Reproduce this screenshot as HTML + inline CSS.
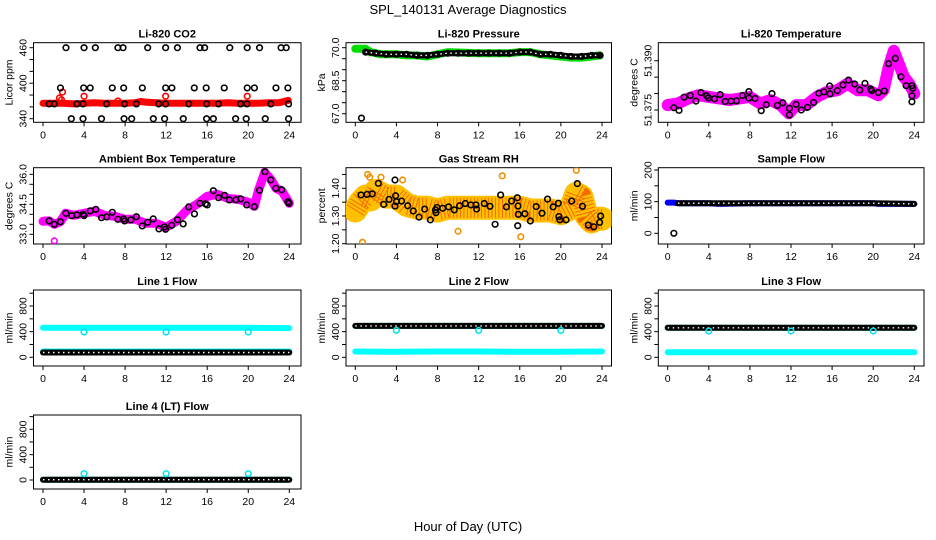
<!DOCTYPE html>
<html><head><meta charset="utf-8"><style>
html,body{margin:0;padding:0;background:#fff;}
svg{display:block;font-family:"Liberation Sans",Arial,sans-serif;}
</style></head><body>
<svg id="chart" width="936" height="540" viewBox="0 0 936 540">
<rect width="936" height="540" fill="#fff"/>
<text x="468" y="14" text-anchor="middle" font-size="13">SPL_140131  Average Diagnostics</text>
<text x="468" y="531" text-anchor="middle" font-size="13">Hour of Day (UTC)</text>
</svg>
<script>
// ---------- data ----------
const xTicks=[0,4,8,12,16,20,24];
// CO2
const co2BandH=[0,1,2,3,4,5,6,7,8,9,9.5,10,11,12,13,14,15,16,17,18,19,20,21,22,23,23.5,23.9];
const co2BandV=[366,366,366,365,366,367,366,366,366,367,369,368,367,366,366,366,366,366,366,367,366,366,366,367,367,369,371];
const co2RedH=[1.6,1.8,1.9,4.0,7.3,11.95,19.9];
const co2RedV=[375,372,385,378,370,378,378];
const co2BlkH=[2.24,4.0,5.1,7.3,7.8,10.2,11.95,13.1,15.3,15.75,18.2,19.9,21.1,23.2,23.7,
 1.7,3.96,4.6,6.75,7.86,9.68,11.95,12.56,14.74,15.9,17.66,19.9,20.6,22.7,23.86,
 0.6,1.1,3.3,3.9,6.2,7.95,9.1,11.27,11.95,14.2,15.94,17.1,19.25,19.87,22.2,23.93,
 2.76,3.9,5.7,7.9,8.64,10.75,11.85,13.67,15.94,16.6,18.77,19.8,21.66,23.93];
const co2BlkV=[460,460,460,460,460,460,460,460,460,460,460,460,460,460,460,
 392,392,392,392,392,392,392,392,392,392,392,392,392,392,392,
 365,365,365,365,365,365,365,365,365,365,365,365,365,365,365,365,
 340,340,340,340,340,340,340,340,340,340,340,340,340,340];
// Pressure
const presBandH=[0,1,1.5,2.5,4,5,6,7,8,9,12,15,16,17,18,19,20,21,22,23,23.8];
const presBandV=[69.95,69.95,69.8,69.7,69.7,69.65,69.65,69.6,69.7,69.8,69.75,69.75,69.8,69.8,69.7,69.65,69.6,69.55,69.55,69.6,69.65];
const presBlkH=[1,2,3,4,5,6,7,8,9,10,11,12,13,14,15,16,17,18,19,20,21,22,23,23.8];
const presBlkV=[69.8,69.75,69.7,69.7,69.7,69.65,69.65,69.7,69.75,69.75,69.75,69.75,69.75,69.75,69.75,69.8,69.8,69.7,69.7,69.65,69.6,69.6,69.65,69.65];
const presOutH=[0.6], presOutV=[66.8];
// Li-820 temperature
const ltBandH=[0,1,2,3,4,5,6,7,8,9,10,11,11.8,12.5,13.5,14.5,15.5,16.5,17.5,18.5,19.5,20.5,21,21.5,22,22.5,23,23.5,24];
const ltBandV=[51.3765,51.377,51.3785,51.3795,51.379,51.3785,51.378,51.3785,51.379,51.377,51.378,51.3765,51.374,51.3765,51.3765,51.379,51.3805,51.381,51.383,51.381,51.381,51.3795,51.381,51.388,51.393,51.389,51.385,51.383,51.380];
const ltBlkH=[0.6,1.1,1.6,2.2,2.75,3.24,3.8,3.96,4.55,5.1,5.6,6.16,6.7,7.27,7.9,7.9,8.5,9.1,9.6,10.15,10.67,11.2,11.84,11.84,12.5,13.0,13.6,14.2,14.7,15.2,15.76,15.8,16.5,17.06,17.6,18.2,18.7,19.2,19.75,19.85,20.5,21.08,21.5,22.15,22.7,23.2,23.77,23.84,23.77,23.77];
const ltBlkV=[51.3757,51.3749,51.3789,51.3794,51.3777,51.3803,51.3793,51.3787,51.3784,51.3797,51.3776,51.3777,51.3778,51.3794,51.3786,51.3806,51.3785,51.3748,51.3766,51.3800,51.3764,51.3772,51.3755,51.3735,51.3767,51.375,51.3758,51.3773,51.3801,51.3805,51.3823,51.3799,51.3809,51.3826,51.3841,51.3829,51.3811,51.3831,51.3814,51.3809,51.3803,51.3808,51.3891,51.3907,51.3851,51.3824,51.3824,51.3816,51.3793,51.3775];
// Ambient box temperature
const abBandH=[0,0.6,1.1,1.7,2.2,3,4,5,6,7,8,9,10,11,12,13,14,15,16,17,18,19,20,20.6,21,21.6,22.2,22.7,23.3,24];
const abBandV=[33.65,33.67,33.5,33.63,34.05,33.95,34.05,34.15,33.95,33.9,33.75,33.75,33.55,33.55,33.35,33.65,34.2,34.5,34.9,35.0,34.8,34.75,34.6,34.4,35.2,36.1,35.75,35.3,35.15,34.55];
const abBlkH=[0.6,1.1,1.7,2.24,2.8,3.3,3.9,4.0,4.6,5.15,5.7,6.2,6.75,7.3,7.85,7.95,8.56,9.1,9.67,10.2,10.74,11.3,11.84,11.94,12.55,13.1,13.66,14.2,14.76,15.3,15.83,16.0,16.6,17.1,17.7,18.16,18.8,19.27,19.85,20.6,21.1,21.63,22.19,22.7,23.26,23.87,23.97];
const abBlkV=[33.67,33.5,33.63,34.05,33.93,33.97,34.0,33.93,34.17,34.25,33.83,33.87,34.1,33.75,33.77,33.67,33.72,33.88,33.42,33.6,33.77,33.27,33.37,33.25,33.45,33.73,33.52,34.37,34.02,34.55,34.52,34.47,35.18,34.83,34.95,34.72,34.72,34.77,34.47,34.38,35.2,36.13,35.72,35.3,35.23,34.63,34.55];
const abOutH=[1.1], abOutV=[32.67];
// Gas stream RH
const rhBandH=[0,0.5,1,1.5,2,3,4,5,6,7,8,9,10,11,12,13,14,15,16,17,18,19,20,21,21.5,22,22.5,23,23.5,24];
const rhBandV=[1.32,1.35,1.37,1.36,1.39,1.37,1.37,1.34,1.33,1.33,1.32,1.33,1.33,1.33,1.33,1.33,1.33,1.33,1.33,1.32,1.32,1.32,1.31,1.33,1.38,1.37,1.30,1.28,1.29,1.29];
const rhBlkH=[0.55,1.14,1.65,2.24,2.76,3.28,3.86,3.92,3.86,4.0,4.5,5.1,5.64,6.2,6.75,7.3,7.8,7.85,7.95,8.5,9.08,9.63,10.15,10.7,11.25,11.74,11.8,12.55,13.1,13.6,14.14,14.7,15.2,15.76,15.83,15.86,15.8,16.5,17.03,17.6,18.16,18.7,19.24,19.75,19.8,19.9,20.5,21.05,21.6,22.1,22.67,23.2,23.77,23.87];
const rhBlkV=[1.376,1.378,1.38,1.418,1.342,1.36,1.43,1.373,1.336,1.352,1.354,1.337,1.318,1.296,1.325,1.286,1.322,1.312,1.331,1.328,1.333,1.322,1.337,1.345,1.34,1.34,1.325,1.345,1.335,1.27,1.376,1.333,1.354,1.366,1.336,1.306,1.265,1.308,1.282,1.334,1.31,1.361,1.333,1.346,1.298,1.286,1.286,1.354,1.417,1.335,1.267,1.261,1.277,1.30];
const rhOutH=[0.7,1.2,1.4,2.5,4.6,10.0,14.3,16.1,21.5], rhOutV=[1.205,1.45,1.44,1.44,1.43,1.245,1.445,1.225,1.465];
// Sample flow
const sfBandH=[0,0.6,1,4,5,8,12,15,16,20,20.5,24];
const sfBandV=[97,97,95,95,93,95,95,95,95,95,93,93];
const sfBlkH=[1,4,8,12,16,20,24];
const sfBlkV=[95,95,95,95,95,95,93];
const sfOutH=[0.6], sfOutV=[0];
// Line flows (ml/min)
const flowH=[0,4,8,12,16,20,24];
const l1Cyan=[460,460,460,460,460,460,455];
const l1CyanLow=[90,90,90,90,90,90,90];
const l1Black=[75,75,75,75,75,75,75];
const l2Cyan=[490,490,490,490,490,490,490];
const l2CyanLow=[90,85,90,90,85,85,90];
const l2Black=[490,490,490,490,490,490,490];
const l3Cyan=[460,460,460,460,460,460,460];
const l3CyanLow=[80,80,80,80,80,80,80];
const l3Black=[460,460,460,460,460,460,460];
const l4Cyan=[5,5,5,5,5,5,5];
const l4Black=[5,5,5,5,5,5,5];
const dipH=[4,12,20];
const l1Dip=[395,395,395], l2Dip=[420,420,420], l3Dip=[410,410,410], l4Dip=[100,100,100];

// ---------- drawing ----------
const NS="http://www.w3.org/2000/svg";
const svg=document.getElementById('chart');
function el(tag,attrs,parent){const e=document.createElementNS(NS,tag);for(const k in attrs)e.setAttribute(k,attrs[k]);(parent||svg).appendChild(e);return e;}
const cols=[{l:33.5,r:301,x0:43,x24:289.3},{l:346,r:611.5,x0:355.3,x24:602},{l:658.3,r:924,x0:667.7,x24:914.3}];
const rows=[{t:42.7,b:122.3},{t:167.7,b:244},{t:290,b:366},{t:415,b:489}];

function panel(ci,ri,title,ylab,va,ya,vb,yb,ticks,labels,name){
  const c=cols[ci],r=rows[ri];
  const g=el('g',{});
  
  
  const X=h=>c.x0+h*(c.x24-c.x0)/24;
  const Y=v=>ya+(v-va)*(yb-ya)/(vb-va);
  const t=el('text',{x:(c.l+c.r)/2,y:r.t-5,'text-anchor':'middle','font-size':'11','font-weight':'bold'},g);
  t.textContent=title;
  
  
  const box=el('rect',{x:c.l,y:r.t,width:c.r-c.l,height:r.b-r.t,fill:'none',stroke:'#000','stroke-width':'1'},g);
  
  
  xTicks.forEach(h=>{
    el('line',{x1:X(h),x2:X(h),y1:r.b,y2:r.b+4,stroke:'#000'},g);
    const tx=el('text',{x:X(h),y:r.b+16,'text-anchor':'middle','font-size':'10.5'},g);
    tx.textContent=h;
    
    
  });
  ticks.forEach(v=>{el('line',{x1:c.l-4,x2:c.l,y1:Y(v),y2:Y(v),stroke:'#000'},g);});
  labels.forEach(v=>{
    const s=el('text',{x:0,y:0,'text-anchor':'middle','font-size':'10.5',transform:`translate(${c.l-7},${Y(parseFloat(v))}) rotate(-90)`},g);
    s.textContent=v;
    
    
  });
  const yl=el('text',{x:0,y:0,'text-anchor':'middle','font-size':'10.5',transform:`translate(${c.l-21},${(r.t+r.b)/2}) rotate(-90)`},g);
  yl.textContent=ylab;
  
  
  const clip='clip'+ci+ri;
  const cp=el('clipPath',{id:clip},g);
  el('rect',{x:c.l,y:r.t,width:c.r-c.l,height:r.b-r.t},cp);
  const dg=el('g',{'clip-path':`url(#${clip})`},g);
  return {X,Y,g:dg};
}
function band(p,H,V,color,w,name){
  const pts=H.map((h,i)=>p.X(h).toFixed(1)+','+p.Y(V[i]).toFixed(1)).join(' ');
  const b=el('polyline',{points:pts,fill:'none',stroke:color,'stroke-width':w,'stroke-linejoin':'round','stroke-linecap':'round'},p.g);
  
  
  return b;
}
function chain(p,H,V,color,name){
  const b=band(p,H,V,color,6,name);
  el('polyline',{points:b.getAttribute('points'),fill:'none',stroke:'#fff','stroke-width':'1.4','stroke-dasharray':'1.5 3.5'},p.g);
}
function pts(p,H,V,color,name,r){
  H.forEach((h,i)=>{
    const c=el('circle',{cx:p.X(h),cy:p.Y(V[i]),r:r||2.8,fill:'none',stroke:color,'stroke-width':'1.6'},p.g);
    
    
  });
}
function rng(a,b,s){const o=[];for(let v=a;v<=b+1e-9;v+=s)o.push(+v.toFixed(4));return o;}

// Panel 1 CO2
let p=panel(0,0,'Li-820 CO2','Licor ppm',460,47.7,340,118.7,rng(340,460,20),['340','400','460'],'panel-co2');
band(p,co2BandH,co2BandV,'#ff0000',7,'co2-band');
pts(p,co2RedH,co2RedV,'#ff0000','co2-red-point');
pts(p,co2BlkH,co2BlkV,'#000','co2-black-point');
// Panel 2 pressure
p=panel(1,0,'Li-820 Pressure','kPa',70,47.7,67,113.7,rng(67,70,0.5),['67.0','68.5','70.0'],'panel-pressure');
band(p,presBandH,presBandV,'#00dd00',8,'pressure-band');
pts(p,presBlkH,presBlkV,'#000','pressure-black-point');
chain(p,presBlkH,presBlkV,'#000','pressure-black-chain');
pts(p,presOutH,presOutV,'#000','pressure-outlier');
// Panel 3 Li-820 temperature
p=panel(2,0,'Li-820 Temperature','degrees C',51.390,60.7,51.375,110,rng(51.375,51.390,0.005),['51.375','51.390'],'panel-li820-temp');
band(p,ltBandH,ltBandV,'#ff00ff',12,'li820-temp-band');
pts(p,ltBlkH,ltBlkV,'#000','li820-temp-point');
// Panel 4 ambient
p=panel(0,1,'Ambient Box Temperature','degrees C',36,174.3,33,234.3,rng(33,36,0.5),['33.0','34.5','36.0'],'panel-ambient');
band(p,abBandH,abBandV,'#ff00ff',9,'ambient-band');
pts(p,abOutH,abOutV,'#ff00ff','ambient-outlier');
pts(p,abBlkH,abBlkV,'#000','ambient-point');
// Panel 5 RH
p=panel(1,1,'Gas Stream RH','percent',1.40,188.3,1.30,216,rng(1.20,1.45,0.05),['1.20','1.30','1.40'],'panel-rh');
band(p,rhBandH,rhBandV,'#ffc000',24,'rh-band');
const tex=band(p,rhBandH,rhBandV,'#ee2200',20,'rh-band-texture');
tex.setAttribute('stroke-dasharray','1 2.5');
tex.setAttribute('stroke-linecap','butt');
tex.setAttribute('opacity','0.55');
pts(p,rhOutH,rhOutV,'#f09000','rh-outlier');
pts(p,rhBlkH,rhBlkV,'#000','rh-point');
// Panel 6 sample flow
p=panel(2,1,'Sample Flow','ml/min',200,170,0,233.3,rng(0,200,50),['0','100','200'],'panel-sample-flow');
band(p,sfBandH,sfBandV,'#0000ff',6,'sample-flow-band');
chain(p,sfBlkH,sfBlkV,'#000','sample-flow-chain');
pts(p,sfOutH,sfOutV,'#000','sample-flow-outlier');
// Line flows
const flowTicks=rng(0,1000,200);
const flowLabels=['0','400','800'];
p=panel(0,2,'Line 1 Flow','ml/min',800,306,0,357.3,flowTicks,flowLabels,'panel-line1');
band(p,flowH,l1Cyan,'#00ffff',6,'line1-cyan-band');
chain(p,flowH,l1CyanLow,'#00ffff','line1-cyan-low');
chain(p,flowH,l1Black,'#000','line1-black');
pts(p,dipH,l1Dip,'#00e5ee','line1-dip');
p=panel(1,2,'Line 2 Flow','ml/min',800,306,0,357.3,flowTicks,flowLabels,'panel-line2');
band(p,flowH,l2CyanLow,'#00ffff',6,'line2-cyan-low');
band(p,flowH,l2Cyan,'#00ffff',6,'line2-cyan-band');
chain(p,flowH,l2Black,'#000','line2-black');
pts(p,dipH,l2Dip,'#00e5ee','line2-dip');
p=panel(2,2,'Line 3 Flow','ml/min',800,306,0,357.3,flowTicks,flowLabels,'panel-line3');
band(p,flowH,l3CyanLow,'#00ffff',6,'line3-cyan-low');
band(p,flowH,l3Cyan,'#00ffff',6,'line3-cyan-band');
chain(p,flowH,l3Black,'#000','line3-black');
pts(p,dipH,l3Dip,'#00e5ee','line3-dip');
p=panel(0,3,'Line 4 (LT) Flow','ml/min',800,429.3,0,480,flowTicks,flowLabels,'panel-line4');
band(p,flowH,l4Cyan,'#00ffff',6,'line4-cyan-band');
chain(p,flowH,l4Black,'#000','line4-black');
pts(p,dipH,l4Dip,'#00e5ee','line4-spike');
</script>
</body></html>
